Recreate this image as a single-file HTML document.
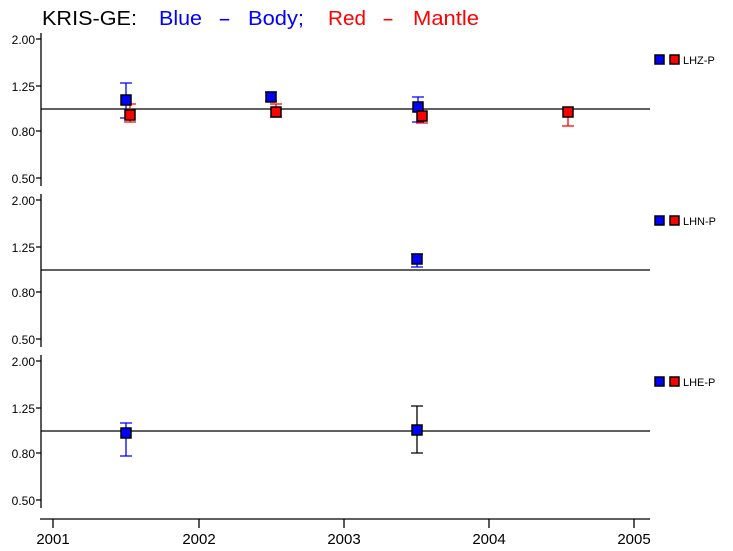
<!DOCTYPE html>
<html><head><style>body{margin:0;background:#fff}svg{display:block}</style></head><body>
<svg width="733" height="551" viewBox="0 0 733 551" xmlns="http://www.w3.org/2000/svg" font-family="Liberation Sans, sans-serif">
<rect width="733" height="551" fill="#fff"/>
<g font-size="20">
<text x="42" y="25" fill="#000" textLength="95" lengthAdjust="spacingAndGlyphs">KRIS-GE:</text>
<text x="159" y="25" fill="#00f" textLength="43" lengthAdjust="spacingAndGlyphs">Blue</text>
<text x="218" y="25" fill="#00f" textLength="13" lengthAdjust="spacingAndGlyphs">-</text>
<text x="248" y="25" fill="#00f" textLength="56" lengthAdjust="spacingAndGlyphs">Body;</text>
<text x="328" y="25" fill="#f00" textLength="38" lengthAdjust="spacingAndGlyphs">Red</text>
<text x="382" y="25" fill="#f00" textLength="12" lengthAdjust="spacingAndGlyphs">-</text>
<text x="413" y="25" fill="#f00" textLength="66" lengthAdjust="spacingAndGlyphs">Mantle</text>
</g>
<g stroke="#000" stroke-width="1.3" fill="none">
<path d="M41 33V186M36 39H41M36 86H41M36 131H41M36 178H41"/>
<path d="M41 194V347M36 200H41M36 247H41M36 292H41M36 339H41"/>
<path d="M41 355V508M36 361H41M36 408H41M36 453H41M36 500H41"/>
<path d="M41 109H650M41 270H650M41 431H650"/>
<path d="M40 519H650M53 519V528M199 519V528M344 519V528M489 519V528M634 519V528"/>
</g>
<g font-size="12" fill="#000" text-anchor="end">
<text x="35" y="44">2.00</text><text x="35" y="91">1.25</text><text x="35" y="136">0.80</text><text x="35" y="183">0.50</text>
<text x="35" y="205">2.00</text><text x="35" y="252">1.25</text><text x="35" y="297">0.80</text><text x="35" y="344">0.50</text>
<text x="35" y="366">2.00</text><text x="35" y="413">1.25</text><text x="35" y="458">0.80</text><text x="35" y="505">0.50</text>
</g>
<g font-size="15" fill="#000" text-anchor="middle">
<text x="53" y="544">2001</text><text x="199" y="544">2002</text><text x="344" y="544">2003</text><text x="489" y="544">2004</text><text x="634" y="544">2005</text>
</g>
<g stroke-width="1.3" fill="none">
<path stroke="#00f" d="M126 83V118M120 83H132M120 118H132"/>
<path stroke="#f00" d="M130 104V122M124 104H136M124 122H136"/>
<path stroke="#00f" d="M271 92V101M265 92H277M265 101H277"/>
<path stroke="#f00" d="M276 104V117M270 104H282M270 117H282"/>
<path stroke="#00f" d="M418 97V122M412 97H424M412 122H424"/>
<path stroke="#f00" d="M422 112V123M416 123H428"/>
<path stroke="#f00" d="M568 107V126M562 126H574"/>
<path stroke="#00f" d="M417 254V267M411 254H423M411 267H423"/>
<path stroke="#00f" d="M126 423V456M120 423H132M120 456H132"/>
<path stroke="#000" d="M417 406V453M411 406H423M411 453H423"/>
</g>
<g stroke="#000" stroke-width="1.5">
<rect x="121" y="95" width="10" height="10" fill="#00f"/>
<rect x="125" y="110" width="10" height="10" fill="#f00"/>
<rect x="266" y="92" width="10" height="10" fill="#00f"/>
<rect x="271" y="107" width="10" height="10" fill="#f00"/>
<rect x="413" y="102" width="10" height="10" fill="#00f"/>
<rect x="417" y="111" width="10" height="10" fill="#f00"/>
<rect x="563" y="107" width="10" height="10" fill="#f00"/>
<rect x="412" y="254" width="10" height="10" fill="#00f"/>
<rect x="121" y="428" width="10" height="10" fill="#00f"/>
<rect x="412" y="425" width="10" height="10" fill="#00f"/>
<rect x="655" y="55" width="9" height="9" fill="#00f"/><rect x="670" y="55" width="9" height="9" fill="#f00"/>
<rect x="655" y="216" width="9" height="9" fill="#00f"/><rect x="670" y="216" width="9" height="9" fill="#f00"/>
<rect x="655" y="377" width="9" height="9" fill="#00f"/><rect x="670" y="377" width="9" height="9" fill="#f00"/>
</g>
<g font-size="11" fill="#000">
<text x="683" y="64">LHZ-P</text><text x="683" y="225">LHN-P</text><text x="683" y="386">LHE-P</text>
</g>
</svg>
</body></html>
